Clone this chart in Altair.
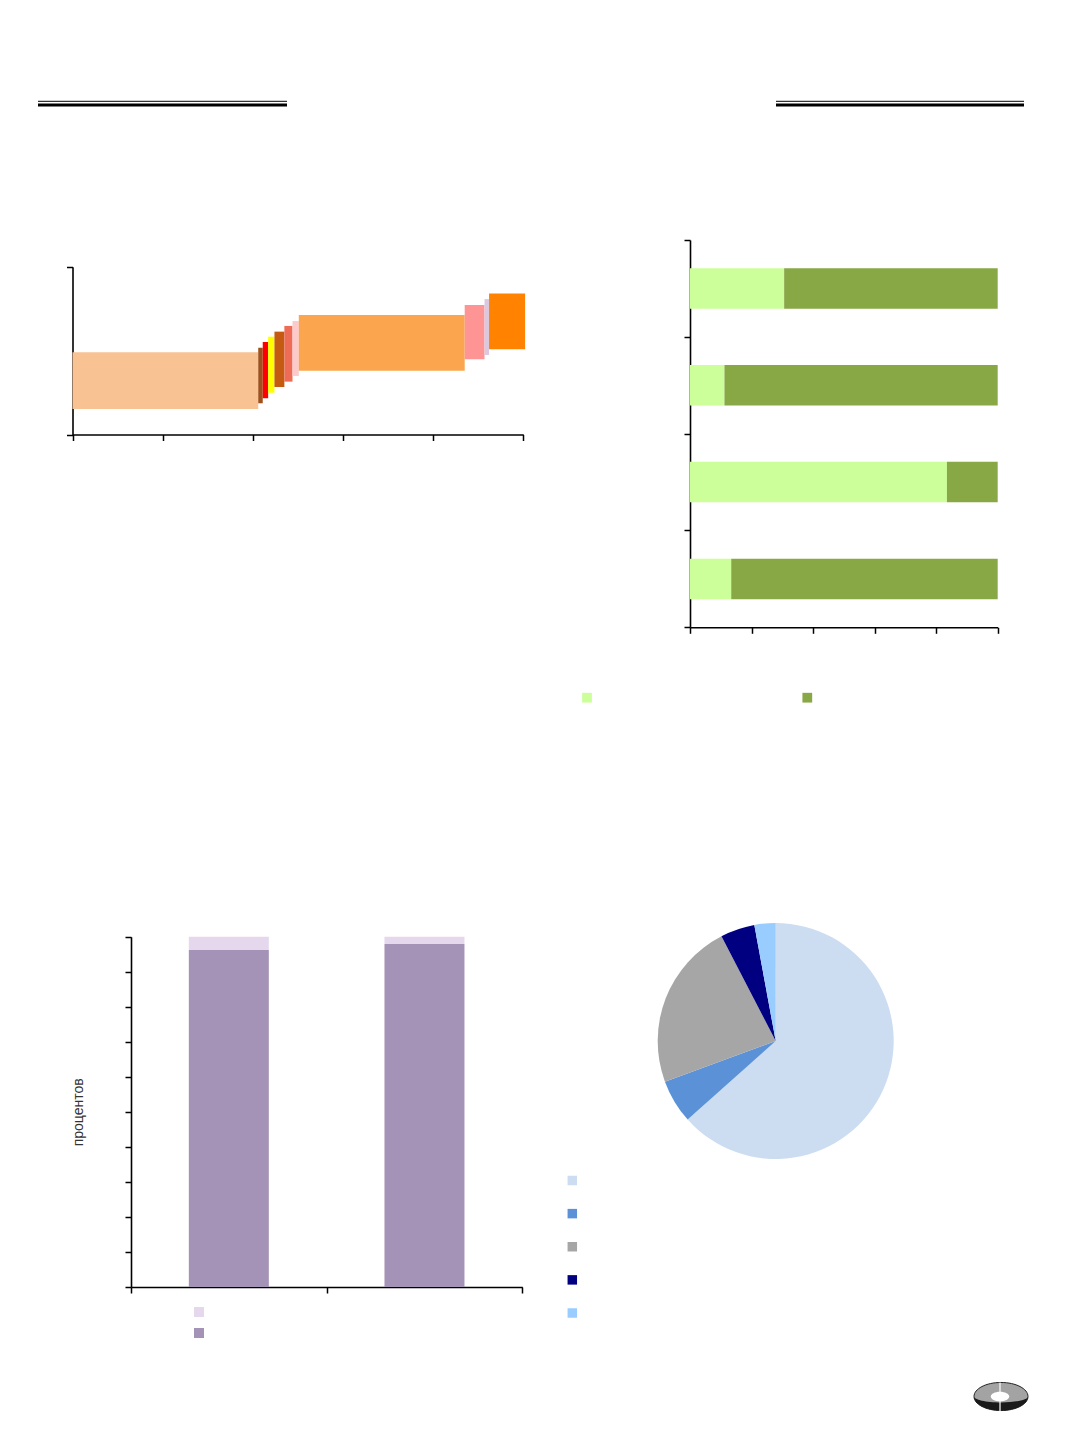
import altair as alt
import pandas as pd

W, H = 1050, 1410

# ---------------- top-left: variable-width floating bars ----------------
tl_names = ["Участок 1", "Участок 2", "Участок 3", "Участок 4", "Участок 5", "Участок 6",
            "Участок 7", "Участок 8", "Участок 9", "Участок 10", "Участок 11"]
tl_x0 = [0.0, 20.6, 21.1, 21.7, 22.4, 23.5, 24.4, 25.1, 43.5, 45.7, 46.2]
tl_x1 = [20.6, 21.1, 21.7, 22.4, 23.5, 24.4, 25.1, 43.5, 45.7, 46.2, 50.2]
tl_y0 = [0.152, 0.186, 0.216, 0.249, 0.283, 0.315, 0.349, 0.380, 0.448, 0.474, 0.508]
tl_y1 = [0.490, 0.517, 0.551, 0.583, 0.613, 0.647, 0.676, 0.712, 0.772, 0.807, 0.841]
tl_colors = ["#F9C293", "#A0501A", "#FF0000", "#FFFF00", "#C55A11", "#EE6B55",
             "#FCCACA", "#FBA64E", "#FF9494", "#DCC8DE", "#FF8300"]
tl_xticks = [0, 10, 20, 30, 40, 50]
tl_yticks = [0, 1]

# ---------------- top-right: 100% horizontal stacked bars ----------------
tr_rows = ["Ряд 1", "Ряд 2", "Ряд 3", "Ряд 4"]
tr_series = ["Серия 1", "Серия 2"]
tr_light = [30.6, 11.2, 83.5, 13.4]
tr_dark = [69.4, 88.8, 16.5, 86.6]
tr_colors = ["#CCFF99", "#88A845"]
tr_xticks = [0, 20, 40, 60, 80, 100]

# ---------------- bottom-left: stacked columns ----------------
bl_cats = ["Категория 1", "Категория 2"]
bl_series = ["Серия A", "Серия B"]   # light (top), dark (bottom)
bl_light = [3.8, 2.1]
bl_dark = [96.2, 97.9]
bl_colors = ["#E5D8EC", "#A592B7"]
bl_yticks = [0, 10, 20, 30, 40, 50, 60, 70, 80, 90, 100]

# ---------------- bottom-right: pie ----------------
pie_names = ["Доля 1", "Доля 2", "Доля 3", "Доля 4", "Доля 5"]
pie_vals = [63.4, 6.0, 23.0, 4.7, 2.9]
pie_colors = ["#CCDDF1", "#5B92D7", "#A6A6A6", "#000080", "#99CCFF"]


def ax(orient, offset, **kw):
    base = dict(orient=orient, offset=offset, labels=False, grid=False, title=None,
                domainColor="black", tickColor="black", domainWidth=1.6, tickWidth=1.5,
                tickSize=6)
    base.update(kw)
    return alt.Axis(**base)


# top-left
tl_df = pd.DataFrame(dict(name=tl_names, x0=tl_x0, x1=tl_x1, y0=tl_y0, y1=tl_y1,
                          ord=list(range(len(tl_names)))))
tl = alt.Chart(tl_df).mark_rect().encode(
    x=alt.X("x0:Q", scale=alt.Scale(domain=[0, 50], range=[64.5, 515.3], nice=False, zero=False),
            axis=ax("bottom", 426.5 - H, values=tl_xticks)),
    x2="x1:Q",
    y=alt.Y("y0:Q", scale=alt.Scale(domain=[0, 1], range=[426.5, 258.7], nice=False),
            axis=ax("left", -64.5, values=tl_yticks)),
    y2="y1:Q",
    color=alt.Color("name:N", scale=alt.Scale(domain=tl_names, range=tl_colors), legend=None),
    order=alt.Order("ord:Q"),
)

# top-right
tr_rec = []
for i, r in enumerate(tr_rows):
    tr_rec.append(dict(row=r, series=tr_series[0], value=tr_light[i], ord=0))
    tr_rec.append(dict(row=r, series=tr_series[1], value=tr_dark[i], ord=1))
tr_df = pd.DataFrame(tr_rec)
tr = alt.Chart(tr_df).mark_bar(size=40.5).encode(
    x=alt.X("value:Q", stack="zero",
            scale=alt.Scale(domain=[0, 100], range=[682, 989.7], nice=False),
            axis=ax("bottom", 619.3 - H, values=tr_xticks)),
    y=alt.Y("row:N", scale=alt.Scale(domain=tr_rows, range=[232, 619.3], paddingInner=0, paddingOuter=0),
            axis=ax("left", -682, tickBand="extent")),
    color=alt.Color("series:N", scale=alt.Scale(domain=tr_series, range=tr_colors), legend=None),
    order=alt.Order("ord:Q"),
)
tr_leg = alt.Chart(pd.DataFrame(dict(series=tr_series))).mark_square(size=95, opacity=1).encode(
    x=alt.X("series:N", scale=alt.Scale(type="point", domain=tr_series, range=[579, 799.3], padding=0), axis=None),
    y=alt.value(689.7),
    color=alt.Color("series:N", scale=alt.Scale(domain=tr_series, range=tr_colors), legend=None),
)

# bottom-left
bl_rec = []
for i, c in enumerate(bl_cats):
    bl_rec.append(dict(cat=c, series=bl_series[1], value=bl_dark[i], ord=0))
    bl_rec.append(dict(cat=c, series=bl_series[0], value=bl_light[i], ord=1))
bl_df = pd.DataFrame(bl_rec)
bl = alt.Chart(bl_df).mark_bar(size=80).encode(
    x=alt.X("cat:N", scale=alt.Scale(domain=bl_cats, range=[123, 514.3], paddingInner=0, paddingOuter=0),
            axis=ax("bottom", 1279 - H, tickBand="extent")),
    y=alt.Y("value:Q", stack="zero",
            scale=alt.Scale(domain=[0, 100], range=[1279, 928.7], nice=False),
            axis=ax("left", -123, values=bl_yticks, title="процентов", titlePadding=39,
                    titleFont="Liberation Sans", titleFontSize=14, titleFontWeight="normal",
                    titleColor="#333333")),
    color=alt.Color("series:N", scale=alt.Scale(domain=bl_series, range=bl_colors), legend=None),
    order=alt.Order("ord:Q"),
)
bl_leg = alt.Chart(pd.DataFrame(dict(series=bl_series))).mark_square(size=100, opacity=1).encode(
    x=alt.value(191),
    y=alt.Y("series:N", scale=alt.Scale(type="point", domain=bl_series, range=[1304, 1325], padding=0), axis=None),
    color=alt.Color("series:N", scale=alt.Scale(domain=bl_series, range=bl_colors), legend=None),
)

# pie
pie_df = pd.DataFrame(dict(name=pie_names, val=pie_vals, ord=list(range(len(pie_names)))))
pie = alt.Chart(pie_df).mark_arc(radius=118).encode(
    theta=alt.Theta("val:Q", stack=True),
    color=alt.Color("name:N", scale=alt.Scale(domain=pie_names, range=pie_colors), legend=None),
    order=alt.Order("ord:Q"),
    x=alt.value(767.7),
    y=alt.value(1033),
)
pie_leg = alt.Chart(pie_df).mark_square(size=90, opacity=1).encode(
    x=alt.value(564.3),
    y=alt.Y("name:N", scale=alt.Scale(type="point", domain=pie_names, range=[1172.5, 1305], padding=0), axis=None),
    color=alt.Color("name:N", scale=alt.Scale(domain=pie_names, range=pie_colors), legend=None),
)

# page decoration: header double rules and emblem
one = pd.DataFrame(dict(k=[0]))
deco = [
    alt.Chart(one).mark_rule(color="black", strokeWidth=1).encode(x=alt.value(30), x2=alt.value(279), y=alt.value(93.3)),
    alt.Chart(one).mark_rule(color="black", strokeWidth=3).encode(x=alt.value(30), x2=alt.value(279), y=alt.value(97)),
    alt.Chart(one).mark_rule(color="black", strokeWidth=1).encode(x=alt.value(768), x2=alt.value(1016), y=alt.value(93.3)),
    alt.Chart(one).mark_rule(color="black", strokeWidth=3).encode(x=alt.value(768), x2=alt.value(1016), y=alt.value(97)),
]
ellipse = "M -1 0 A 1 0.52 0 1 1 1 0 A 1 0.52 0 1 1 -1 0 Z"
crescent = "M -1 0 A 1 0.52 0 0 0 1 0 A 1 0.22 0 0 1 -1 0 Z"
logo = [
    alt.Chart(one).mark_point(shape=ellipse, filled=True, fill="#A3A3A3", stroke="#222222",
                              strokeWidth=1, size=2916, opacity=1).encode(x=alt.value(993), y=alt.value(1388.5)),
    alt.Chart(one).mark_point(shape=crescent, filled=True, fill="#1A1A1A", strokeWidth=0,
                              size=2916, opacity=1).encode(x=alt.value(993), y=alt.value(1388.5)),
    alt.Chart(one).mark_rule(color="white", strokeWidth=1.2).encode(x=alt.value(992), y=alt.value(1374.5), y2=alt.value(1403)),
    alt.Chart(one).mark_point(shape=ellipse, filled=True, fill="white", strokeWidth=0,
                              size=340, opacity=1).encode(x=alt.value(992), y=alt.value(1388.5)),
]

chart = alt.layer(tl, tr, tr_leg, bl, bl_leg, pie, pie_leg, *deco, *logo).resolve_scale(
    x="independent", y="independent", color="independent", theta="independent"
).resolve_axis(
    x="independent", y="independent"
).properties(
    width=W, height=H, padding=0,
    autosize=alt.AutoSizeParams(type="none"),
    background="white",
).configure_view(stroke=None)

chart.save("out.html", embed_options={"renderer": "svg", "actions": False})
